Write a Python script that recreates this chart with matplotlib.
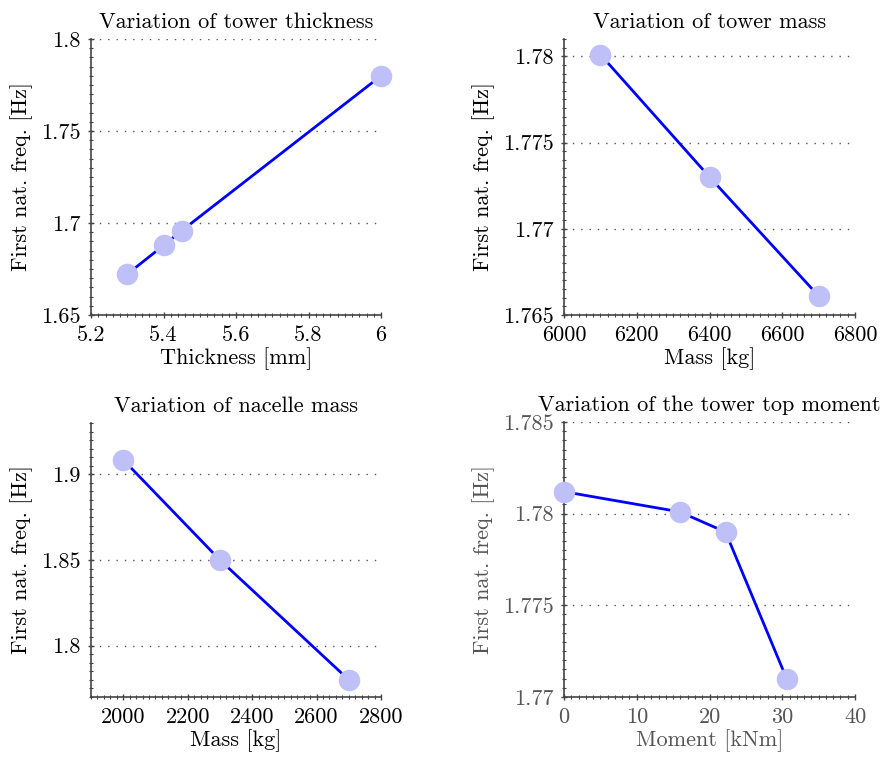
import matplotlib
matplotlib.use("Agg")
import matplotlib.pyplot as plt
from matplotlib.ticker import MultipleLocator, AutoMinorLocator, FuncFormatter

# data
thickness = [5.3, 5.4, 5.45, 6.0]
freq_thickness = [1.6722, 1.6878, 1.6958, 1.780]

tower_mass = [6100, 6400, 6700]
freq_tower_mass = [1.7801, 1.7730, 1.7661]

nacelle_mass = [2000, 2300, 2700]
freq_nacelle_mass = [1.9085, 1.850, 1.780]

moment = [0, 15.9, 22.2, 30.6]
freq_moment = [1.7812, 1.7801, 1.7790, 1.7710]

titles = ["Variation of tower thickness", "Variation of tower mass",
          "Variation of nacelle mass", "Variation of the tower top moment"]
xlabels = ["Thickness [mm]", "Mass [kg]", "Mass [kg]", "Moment [kNm]"]
ylabel = "First nat. freq. [Hz]"

plt.rcParams["font.family"] = "serif"
plt.rcParams["font.serif"] = ["cmr10", "DejaVu Serif"]
plt.rcParams["mathtext.fontset"] = "cm"
plt.rcParams["axes.formatter.use_mathtext"] = True
plt.rcParams["font.size"] = 16

fig = plt.figure(figsize=(8.81, 7.59), dpi=100)

boxes = [
    [0.1033, 0.585, 0.3292, 0.3636],
    [0.6402, 0.585, 0.3303, 0.3636],
    [0.1033, 0.0817, 0.3292, 0.361],
    [0.6402, 0.0817, 0.3303, 0.3623],
]
series = [(thickness, freq_thickness), (tower_mass, freq_tower_mass),
          (nacelle_mass, freq_nacelle_mass), (moment, freq_moment)]
xlims = [(5.2, 6.0), (6000, 6800), (1900, 2800), (0, 40)]
ylims = [(1.65, 1.8), (1.765, 1.781), (1.77, 1.93), (1.77, 1.785)]
xmaj = [0.2, 200, 200, 10]
ymaj = [0.05, 0.005, 0.05, 0.005]
label_colors = ["black", "black", "black", "#555555"]

fmt = FuncFormatter(lambda v, p: "%g" % round(v, 6))

for i in range(4):
    ax = fig.add_axes(boxes[i])
    x, y = series[i]
    ax.plot(x, y, color="blue", linewidth=2, zorder=3)
    ax.plot(x, y, linestyle="none", marker="o", markersize=14.5,
            color="#c0c0f8", zorder=4, clip_on=False)
    ax.set_xlim(xlims[i])
    ax.set_ylim(ylims[i])
    ax.xaxis.set_major_locator(MultipleLocator(xmaj[i]))
    ax.yaxis.set_major_locator(MultipleLocator(ymaj[i]))
    ax.xaxis.set_minor_locator(AutoMinorLocator(10))
    ax.yaxis.set_minor_locator(AutoMinorLocator(10))
    ax.xaxis.set_major_formatter(fmt)
    ax.yaxis.set_major_formatter(fmt)
    ax.spines["top"].set_visible(False)
    ax.spines["right"].set_visible(False)
    for s in ["left", "bottom"]:
        ax.spines[s].set_color("#444444")
        ax.spines[s].set_linewidth(1.2)
    ax.tick_params(which="major", direction="inout", length=5, width=1,
                   color="#444444", labelcolor=label_colors[i], pad=5)
    ax.tick_params(which="minor", direction="inout", length=3, width=0.8,
                   color="#444444")
    ax.grid(True, axis="y", which="major", color="#555555",
            linestyle=(0, (1, 5)), linewidth=1)
    ax.set_title(titles[i], fontsize=16, pad=8)
    ax.set_xlabel(xlabels[i], color=label_colors[i], labelpad=2)
    ax.set_ylabel(ylabel, color=label_colors[i], labelpad=6)

fig.savefig("out.png", dpi=100)
